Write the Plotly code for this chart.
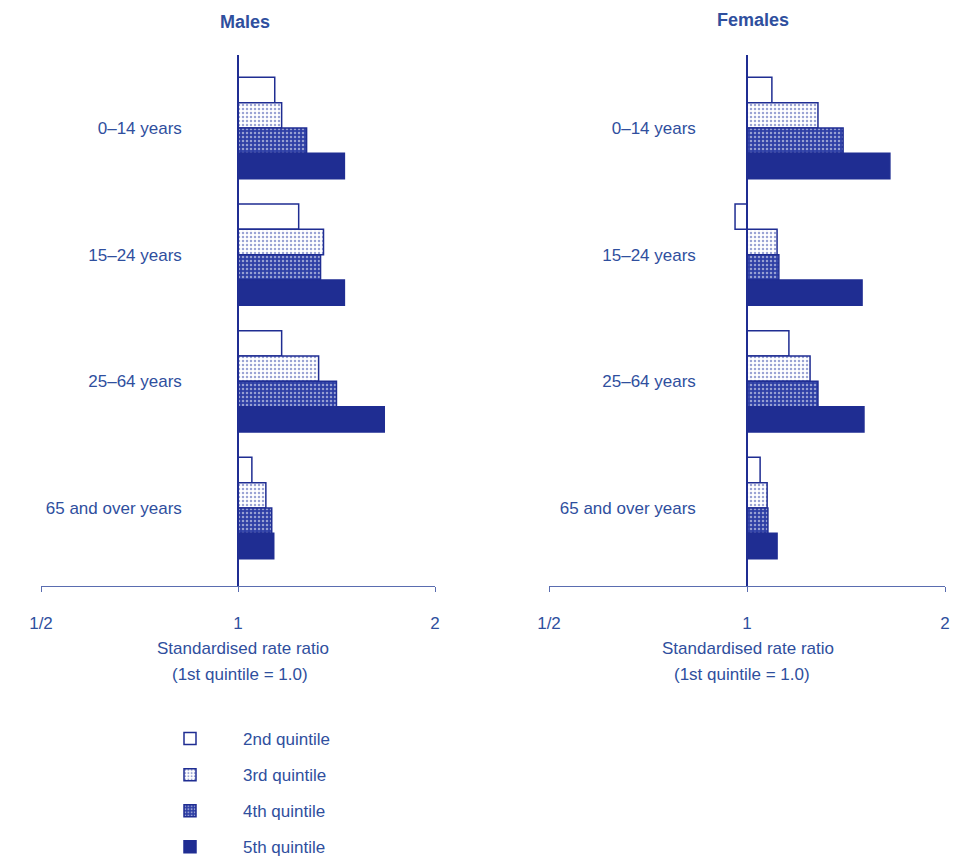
import plotly.graph_objects as go

# ---- data ----
age_groups = ["0–14 years", "15–24 years", "25–64 years", "65 and over years"]
quintiles = ["2nd quintile", "3rd quintile", "4th quintile", "5th quintile"]

males_q2 = [1.138, 1.238, 1.166, 1.05]
males_q3 = [1.166, 1.351, 1.328, 1.103]
males_q4 = [1.273, 1.337, 1.414, 1.126]
males_q5 = [1.454, 1.454, 1.673, 1.134]

females_q2 = [1.091, 0.959, 1.158, 1.047]
females_q3 = [1.282, 1.111, 1.247, 1.073]
females_q4 = [1.40, 1.118, 1.282, 1.076]
females_q5 = [1.649, 1.496, 1.506, 1.111]

tick_vals = [0.5, 1, 2]
tick_text = ["1/2", "1", "2"]

# ---- styles ----
NAVY = "#1f2d92"
TXT = "#2f4f9e"
FONT = "Liberation Sans"

styles = [
    dict(color="white", pattern=None),
    dict(color="white", pattern=dict(shape=".", fgcolor="#3548a8", bgcolor="white", size=4, solidity=0.3)),
    dict(color="#2e3fa5", pattern=dict(shape=".", fgcolor="white", bgcolor="#2e3fa5", size=4, solidity=0.3)),
    dict(color=NAVY, pattern=None),
]

fig = go.Figure()

panels = [
    ("x", "y", [males_q2, males_q3, males_q4, males_q5], True),
    ("x2", "y2", [females_q2, females_q3, females_q4, females_q5], False),
]
for xa, ya, series, show in panels:
    for name, vals, st in zip(quintiles, series, styles):
        marker = dict(color=st["color"], line=dict(color=NAVY, width=1.5))
        if st["pattern"]:
            marker["pattern"] = st["pattern"]
        fig.add_trace(go.Bar(
            y=age_groups, x=[v - 1 for v in vals], base=1, orientation="h",
            name=name, marker=marker, xaxis=xa, yaxis=ya,
            showlegend=show, legendgroup=name,
        ))

# the page body adds an 8px offset; work in window pixel coordinates
OFF = 8
W, H = 958 - OFF, 857 - OFF
def px(x):
    return (x - OFF) / W
def py(y):
    return 1 - (y - OFF) / H

ydom = [py(586), py(55)]
xdom1 = [px(41), px(435)]
xdom2 = [px(549), px(945)]

axis_x = dict(type="log", range=[-0.30103, 0.30103], tickvals=tick_vals, ticktext=tick_text,
              showline=True, linecolor="#5a6db0", linewidth=1.2, ticks="outside", ticklen=5,
              tickcolor="#5a6db0", showgrid=False, zeroline=False, ticklabelstandoff=16,
              tickfont=dict(size=17, color=TXT, family=FONT), fixedrange=True, automargin=False)
axis_y = dict(type="category", categoryorder="array", categoryarray=age_groups,
              range=[3.616, -0.576], domain=ydom, showline=True, linecolor=NAVY, linewidth=1.5,
              ticks="", showgrid=False, zeroline=False,
              tickfont=dict(size=17, color=TXT, family=FONT), anchor="free", automargin=False)

fig.update_layout(
    width=W, height=H, margin=dict(l=0, r=0, t=0, b=0, autoexpand=False),
    paper_bgcolor="white", plot_bgcolor="rgba(0,0,0,0)",
    barmode="group", bargap=0.2, bargroupgap=0,
    font=dict(family=FONT, color=TXT),
    xaxis=dict(domain=xdom1, anchor="y", **axis_x),
    xaxis2=dict(domain=xdom2, anchor="y2", **axis_x),
    yaxis=dict(position=px(238), ticklabelstandoff=52, **axis_y),
    yaxis2=dict(position=px(747), ticklabelstandoff=47, **axis_y),
    legend=dict(x=px(137), y=py(721), xanchor="left", yanchor="top",
                font=dict(size=17, color=TXT, family=FONT), traceorder="grouped",
                tracegroupgap=11, itemwidth=96, bgcolor="rgba(0,0,0,0)"),
    showlegend=True,
)

annots = [
    ("Males", 245, 22, True),
    ("Females", 753, 20, True),
    ("Standardised rate ratio", 243, 648, False),
    ("(1st quintile = 1.0)", 240, 674, False),
    ("Standardised rate ratio", 748, 648, False),
    ("(1st quintile = 1.0)", 742, 674, False),
]
for text, x, y, bold in annots:
    fig.add_annotation(text=f"<b>{text}</b>" if bold else text, x=px(x), y=py(y),
                       xref="paper", yref="paper", showarrow=False,
                       xanchor="center", yanchor="middle",
                       font=dict(size=18 if bold else 17, color=TXT, family=FONT))

fig.write_html("out.html")
